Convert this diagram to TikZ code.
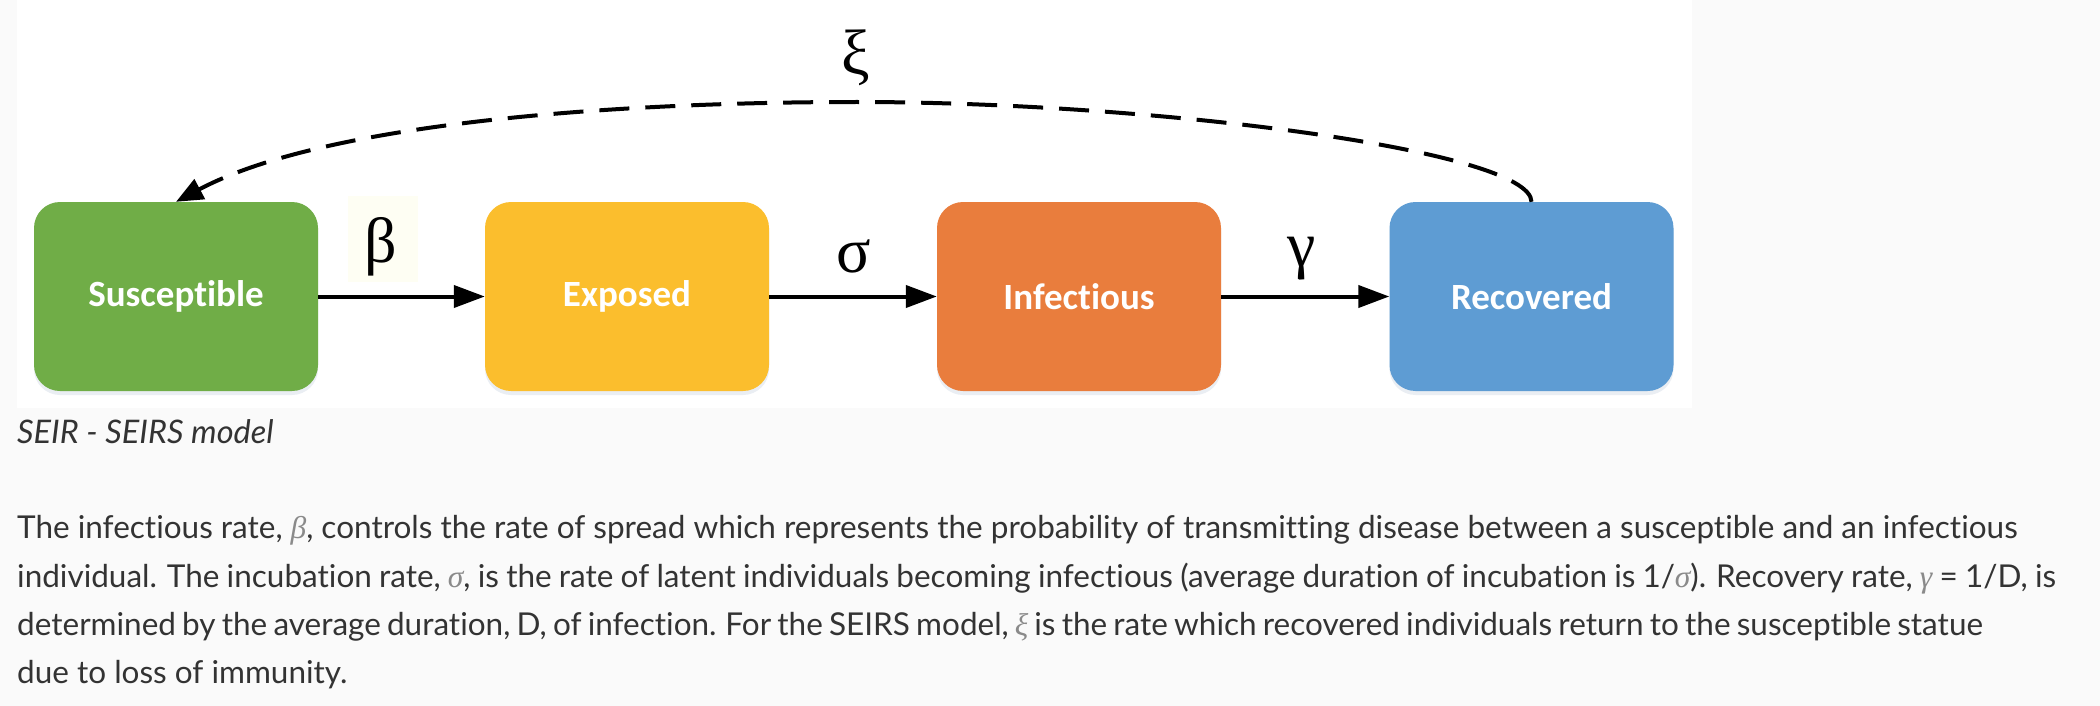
\documentclass[tikz,border=0pt]{standalone}
\usepackage{fontspec}
\setmainfont{Lato}[Ligatures=NoCommon]
\newfontfamily\boxfont{Carlito}[Ligatures=NoCommon]
\newfontfamily\greekfont{Liberation Serif}
\usetikzlibrary{arrows.meta}
\definecolor{bggray}{HTML}{FAFAFA}
\definecolor{sgreen}{HTML}{70AD47}
\definecolor{eyellow}{HTML}{FBBE2D}
\definecolor{iorange}{HTML}{E97D3D}
\definecolor{rblue}{HTML}{5E9CD3}
\definecolor{textgray}{HTML}{333333}
\definecolor{mathgray}{HTML}{8A8A8A}
\definecolor{cream}{HTML}{FEFEF3}
\definecolor{shade}{HTML}{8FA3C0}
\newcommand{\gk}[1]{{\color{mathgray}\greekfont\itshape #1}}
\newcommand{\tightsp}[1]{\spaceskip=\dimexpr\fontdimen2\font-#1\relax}
\begin{document}
\begin{tikzpicture}[x=1pt,y=-1pt,
  state/.style={rounded corners=26pt, minimum width=284pt, minimum height=189pt, inner sep=0pt,
    text=white, font=\boxfont\bfseries\fontsize{37}{42}\selectfont,
    preaction={fill=shade, opacity=0.18, transform canvas={yshift=-4pt}}},
  flow/.style={line width=4pt, -{Triangle[length=31pt,width=22pt]}},
  back/.style={line width=4pt, dash pattern=on 30pt off 16pt, -{Triangle[length=27pt,width=22pt]}},
  rate/.style={font=\greekfont\fontsize{64}{70}\selectfont, inner sep=0pt, anchor=base},
  para/.style={anchor=base west, inner sep=0pt, text=textgray, font=\fontsize{31.5}{38}\selectfont}]
\useasboundingbox (0,0) rectangle (2100,706);
\fill[bggray] (0,0) rectangle (2100,706);
\fill[white] (17,0) rectangle (1692,408);
% states
\node[state, fill=sgreen] (S) at (176,296.5) {Susceptible};
\node[state, fill=eyellow] (E) at (627,296.5) {Exposed};
\node[state, fill=iorange] (I) at (1079,296.5) {Infectious};
\node[state, fill=rblue] (R) at (1531.5,296.5) {Recovered};
% flows
\draw[flow] (S) -- (E);
\draw[flow] (E) -- (I);
\draw[flow] (I) -- (R);
\draw[back] (R.north) .. controls (1531,150) and (1150,102) .. (857,102)
  .. controls (600,102) and (320,125) .. (S.north);
% rate labels
\fill[cream] (348,196) rectangle (418,282);
\node[rate] (beta) at (381,262) {β};
\node[rate] (sigma) at (854,272) {σ};
\node[rate] (gamma) at (1302,266) {γ};
\node[rate] (xi) at (856,75) {ξ};
% caption and text
\node[para, font=\itshape\fontsize{32.5}{38}\selectfont] (cap) at (17,443) {SEIR - SEIRS model};
\node[para] (l1) at (17,538) {The infectious rate, \gk{β}, controls the rate of spread which represents the probability of transmitting disease between a susceptible and an infectious};
\node[para] (l2) at (17,587) {\tightsp{0.85pt}individual. The incubation rate, \gk{σ}, is the rate of latent individuals becoming infectious (average duration of incubation is 1/\gk{σ}). Recovery rate, \gk{γ} = 1/D, is};
\node[para] (l3) at (17,635) {\tightsp{1.9pt}determined by the average duration, D, of infection. For the SEIRS model, \gk{ξ} is the rate which recovered individuals return to the susceptible statue};
\node[para] (l4) at (17,683) {due to loss of immunity.};
\end{tikzpicture}
\end{document}
